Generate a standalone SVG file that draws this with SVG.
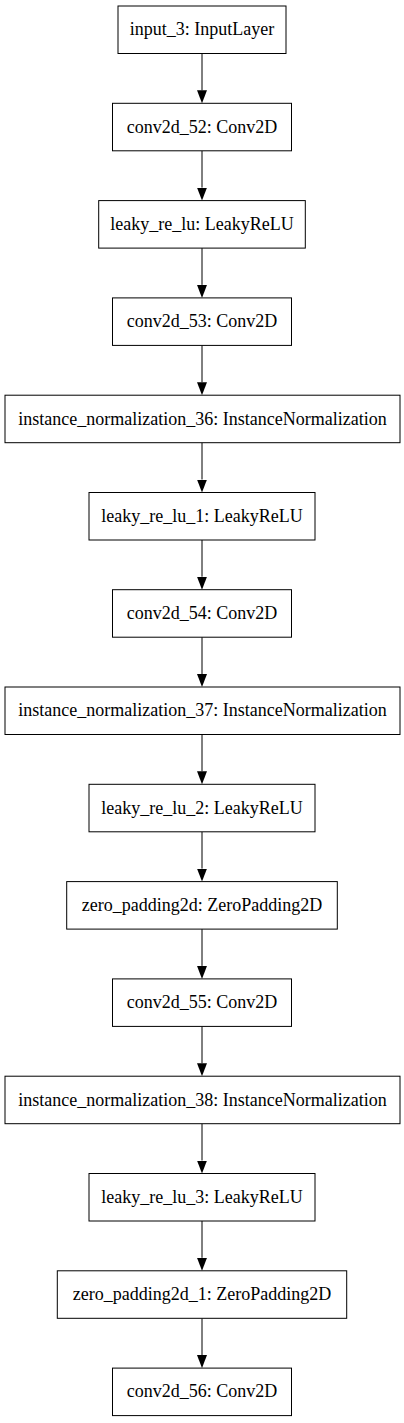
<svg xmlns="http://www.w3.org/2000/svg" width="404" height="1423" viewBox="0 0 404 1423">
<style>
.n rect{fill:#fff;stroke:#000;stroke-width:1}
.n text{font-size:18px;fill:#000;text-anchor:middle}
.e path{fill:none;stroke:#000;stroke-width:1}
</style>
<defs>
<marker id="ah" viewBox="0 0 13 10" refX="0" refY="5" markerWidth="13" markerHeight="10" markerUnits="userSpaceOnUse" orient="auto">
<path d="M0,0 L13,5 L0,10 Z" fill="#000"/>
</marker>
</defs>
<rect width="404" height="1423" fill="#fff"/>
<g id="edges" class="e">
<path d="M202,53.5 V90.3" marker-end="url(#ah)"/>
<path d="M202,150.8 V187.6" marker-end="url(#ah)"/>
<path d="M202,248.1 V284.9" marker-end="url(#ah)"/>
<path d="M202,345.4 V382.2" marker-end="url(#ah)"/>
<path d="M202,442.7 V479.5" marker-end="url(#ah)"/>
<path d="M202,540 V576.7" marker-end="url(#ah)"/>
<path d="M202,637.2 V674" marker-end="url(#ah)"/>
<path d="M202,734.5 V771.3" marker-end="url(#ah)"/>
<path d="M202,831.8 V868.6" marker-end="url(#ah)"/>
<path d="M202,929.1 V965.9" marker-end="url(#ah)"/>
<path d="M202,1026.4 V1063.2" marker-end="url(#ah)"/>
<path d="M202,1123.7 V1160.5" marker-end="url(#ah)"/>
<path d="M202,1221 V1257.8" marker-end="url(#ah)"/>
<path d="M202,1318.3 V1355.1" marker-end="url(#ah)"/>
</g>
<g font-family="'Liberation Serif', 'DejaVu Serif', serif">
<g id="input_3" class="n"><rect x="118" y="6" width="168" height="47.5"/><text x="202" y="35.3">input_3: InputLayer</text></g>
<g id="conv2d_52" class="n"><rect x="112.5" y="103.3" width="179" height="47.5"/><text x="202" y="132.6">conv2d_52: Conv2D</text></g>
<g id="leaky_re_lu" class="n"><rect x="98.7" y="200.6" width="206.6" height="47.5"/><text x="202" y="229.9">leaky_re_lu: LeakyReLU</text></g>
<g id="conv2d_53" class="n"><rect x="112.5" y="297.9" width="179" height="47.5"/><text x="202" y="327.2">conv2d_53: Conv2D</text></g>
<g id="instance_normalization_36" class="n"><rect x="5" y="395.2" width="395" height="47.5"/><text x="202.5" y="424.5">instance_normalization_36: InstanceNormalization</text></g>
<g id="leaky_re_lu_1" class="n"><rect x="89" y="492.5" width="226" height="47.5"/><text x="202" y="521.8">leaky_re_lu_1: LeakyReLU</text></g>
<g id="conv2d_54" class="n"><rect x="112.5" y="589.7" width="179" height="47.5"/><text x="202" y="619">conv2d_54: Conv2D</text></g>
<g id="instance_normalization_37" class="n"><rect x="5" y="687" width="395" height="47.5"/><text x="202.5" y="716.3">instance_normalization_37: InstanceNormalization</text></g>
<g id="leaky_re_lu_2" class="n"><rect x="89" y="784.3" width="226" height="47.5"/><text x="202" y="813.6">leaky_re_lu_2: LeakyReLU</text></g>
<g id="zero_padding2d" class="n"><rect x="66.7" y="881.6" width="270.6" height="47.5"/><text x="202" y="910.9">zero_padding2d: ZeroPadding2D</text></g>
<g id="conv2d_55" class="n"><rect x="112.5" y="978.9" width="179" height="47.5"/><text x="202" y="1008.2">conv2d_55: Conv2D</text></g>
<g id="instance_normalization_38" class="n"><rect x="5" y="1076.2" width="395" height="47.5"/><text x="202.5" y="1105.5">instance_normalization_38: InstanceNormalization</text></g>
<g id="leaky_re_lu_3" class="n"><rect x="89" y="1173.5" width="226" height="47.5"/><text x="202" y="1202.8">leaky_re_lu_3: LeakyReLU</text></g>
<g id="zero_padding2d_1" class="n"><rect x="57.3" y="1270.8" width="289.4" height="47.5"/><text x="202" y="1300.1">zero_padding2d_1: ZeroPadding2D</text></g>
<g id="conv2d_56" class="n"><rect x="112.5" y="1368.1" width="179" height="47.5"/><text x="202" y="1397.4">conv2d_56: Conv2D</text></g>
</g>
</svg>
